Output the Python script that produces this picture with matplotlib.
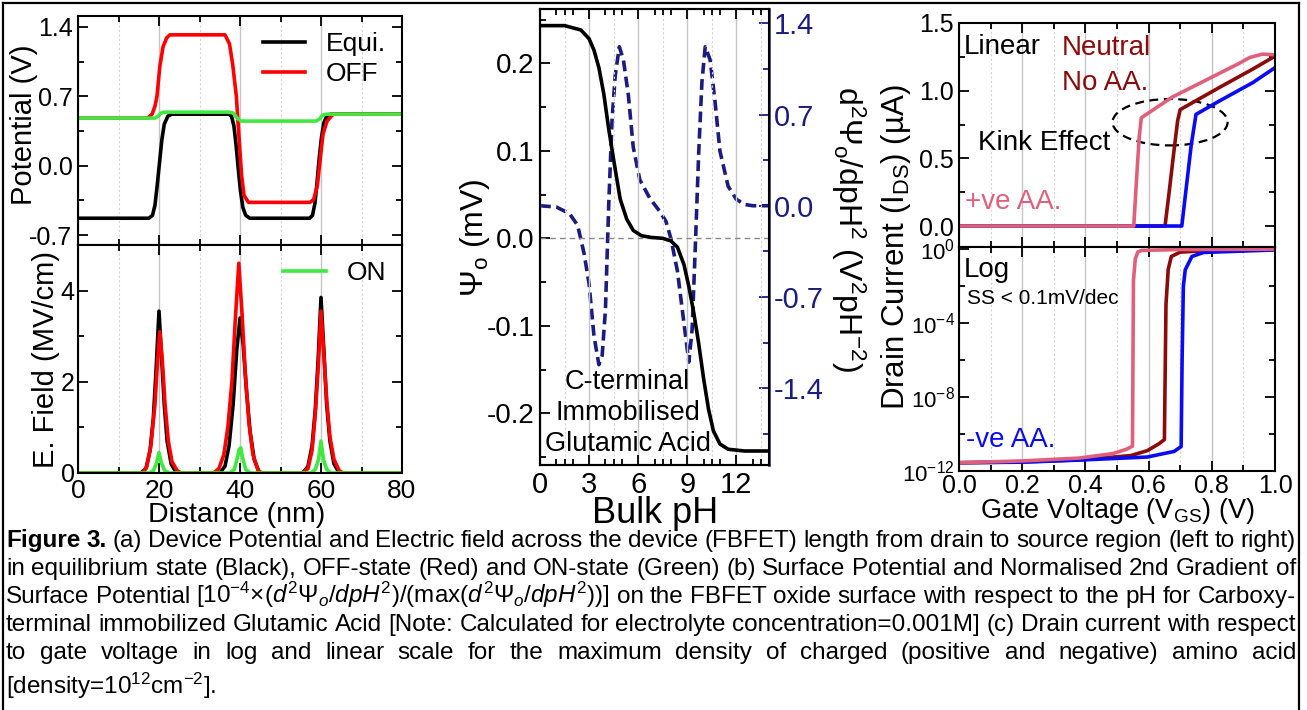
import matplotlib
matplotlib.use('Agg')
import matplotlib.pyplot as plt
from matplotlib.patches import Ellipse
from matplotlib.lines import Line2D
from matplotlib.ticker import MultipleLocator, FixedLocator, NullFormatter, LogFormatterMathtext

# (a) potential along the device, x in nm
eq_x = [0, 17.5, 18.4, 19.0, 19.5, 20.1, 20.7, 21.3, 22.2, 23.2, 37.2, 37.9, 38.5, 39.0, 39.5, 40.1, 40.7, 41.4, 42.4,
        57.2, 57.9, 58.5, 59.0, 59.5, 60.1, 60.7, 61.4, 62.4, 80]
eq_y = [-0.53, -0.53, -0.50, -0.40, -0.22, 0.02, 0.26, 0.42, 0.50, 0.52, 0.52, 0.50, 0.40, 0.22, 0.0, -0.25, -0.42, -0.50, -0.53,
        -0.53, -0.50, -0.38, -0.18, 0.05, 0.28, 0.43, 0.50, 0.52, 0.52]
off_x = [0, 17.2, 18.3, 19.0, 19.5, 20.2, 21.0, 21.9, 22.7, 36.3, 37.4, 38.2, 39.1, 39.7, 40.4, 41.0, 42.1,
         57.3, 58.2, 59.1, 59.9, 60.5, 61.5, 63.0, 80]
off_y = [0.48, 0.48, 0.52, 0.60, 0.70, 1.00, 1.20, 1.29, 1.32, 1.32, 1.23, 1.02, 0.70, 0.32, -0.10, -0.30, -0.37,
         -0.37, -0.34, -0.20, 0.10, 0.32, 0.45, 0.52, 0.52]
on_x = [0, 19.0, 19.8, 20.5, 21.2, 37.4, 38.4, 39.3, 40.3, 58.8, 59.6, 60.4, 61.4, 80]
on_y = [0.48, 0.48, 0.50, 0.53, 0.54, 0.54, 0.53, 0.48, 0.45, 0.45, 0.47, 0.51, 0.52, 0.52]

# (a) electric field, MV/cm
eq_ef_x = [0, 15.5, 16.8, 17.8, 18.6, 19.3, 20.0, 20.6, 21.3, 22.0, 23.0, 24.3,
           35.0, 36.3, 37.3, 38.3, 39.2, 40.0, 40.8, 41.6, 42.5, 43.5, 44.8,
           55.5, 56.8, 57.8, 58.6, 59.3, 60.0, 60.7, 61.4, 62.2, 63.2, 64.5, 80]
eq_ef_y = [0, 0, 0.1, 0.5, 1.2, 2.3, 3.55, 2.6, 1.5, 0.7, 0.2, 0,
           0, 0.15, 0.6, 1.5, 2.7, 3.4, 2.8, 1.8, 0.9, 0.3, 0,
           0, 0.15, 0.6, 1.4, 2.5, 3.85, 2.7, 1.5, 0.7, 0.2, 0, 0]
off_ef_x = [0, 16.0, 17.0, 18.0, 19.0, 19.6, 20.2, 20.8, 21.5, 22.3, 23.2, 24.5, 25.5,
            33.5, 34.8, 36.0, 37.0, 38.0, 38.8, 39.7, 40.5, 41.3, 42.2, 43.2, 44.5, 45.5,
            55.5, 56.8, 57.8, 58.6, 59.3, 60.0, 60.7, 61.4, 62.2, 63.2, 64.5, 65.5, 80]
off_ef_y = [0, 0, 0.15, 0.6, 1.5, 2.4, 3.1, 2.5, 1.5, 0.7, 0.25, 0.05, 0,
            0, 0.1, 0.4, 1.0, 2.0, 3.3, 4.6, 3.5, 2.2, 1.1, 0.4, 0.05, 0,
            0, 0.1, 0.5, 1.3, 2.3, 3.55, 2.6, 1.6, 0.8, 0.3, 0.05, 0, 0]
on_ef_x = [0, 17.5, 18.6, 19.4, 20.0, 20.6, 21.4, 22.5, 37.5, 38.6, 39.4, 39.8, 40.2, 40.6, 41.4, 42.5,
           57.5, 58.6, 59.4, 60.0, 60.6, 61.4, 62.5, 80]
on_ef_y = [0, 0, 0.05, 0.22, 0.45, 0.22, 0.05, 0, 0, 0.08, 0.35, 0.52, 0.55, 0.35, 0.08, 0,
           0, 0.08, 0.3, 0.7, 0.3, 0.08, 0, 0]

# (b) surface potential and its 2nd gradient vs bulk pH
psi_x = [0, 1.5, 2.5, 3.0, 3.3, 3.6, 3.9, 4.2, 4.5, 4.9, 5.3, 5.7, 6.2, 6.8, 7.5, 8.0, 8.4, 8.8, 9.1, 9.4,
         9.7, 10.0, 10.3, 10.6, 11.0, 11.5, 12.5, 14]
psi_y = [0.243, 0.243, 0.238, 0.228, 0.215, 0.195, 0.165, 0.125, 0.09, 0.045, 0.022, 0.009, 0.003, 0.001, 0.0,
         -0.003, -0.01, -0.03, -0.055, -0.085, -0.12, -0.16, -0.195, -0.22, -0.235, -0.241, -0.243, -0.243]
d2_x = [0, 1.0, 1.8, 2.3, 2.7, 3.0, 3.3, 3.6, 3.8, 4.0, 4.2, 4.4, 4.6, 4.85, 5.1, 5.4, 5.7, 6.1, 6.7, 7.3,
        7.7, 8.0, 8.4, 8.7, 9.0, 9.1, 9.3, 9.5, 9.7, 9.9, 10.1, 10.4, 10.7, 11.0, 11.5, 12.0, 12.5, 13.0, 14.0]
d2_y = [0.0, -0.01, -0.06, -0.15, -0.37, -0.6, -1.0, -1.22, -1.15, -0.8, 0.0, 0.65, 1.0, 1.22, 1.12, 0.85, 0.45, 0.2, 0.06, -0.04,
        -0.12, -0.25, -0.5, -0.8, -1.1, -1.2, -0.95, -0.3, 0.4, 0.95, 1.22, 1.12, 0.8, 0.42, 0.15, 0.05, 0.01, 0.0, 0.0]

# (c) drain current (uA) vs gate voltage
pos_lin_x = [0, 0.553, 0.562, 0.570, 0.577, 0.673, 0.779, 0.885, 0.92, 0.96, 1.0]
pos_lin_y = [0, 0, 0.35, 0.65, 0.80, 0.95, 1.075, 1.20, 1.245, 1.27, 1.265]
neu_lin_x = [0, 0.652, 0.665, 0.68, 0.692, 0.70, 0.825, 0.93, 1.0]
neu_lin_y = [0, 0, 0.25, 0.55, 0.78, 0.86, 1.025, 1.16, 1.255]
neg_lin_x = [0, 0.705, 0.72, 0.735, 0.75, 0.825, 0.93, 1.0]
neg_lin_y = [0, 0, 0.3, 0.6, 0.825, 0.925, 1.06, 1.17]

pos_log_x = [0, 0.2, 0.38, 0.486, 0.53, 0.549, 0.552, 0.558, 0.566, 0.578, 0.7, 1.0]
pos_log_y = [2.8e-12, 3.5e-12, 5e-12, 8.7e-12, 1.5e-11, 2.2e-11, 0.02, 0.3, 0.7, 0.85, 0.95, 1.0]
neu_log_x = [0, 0.2, 0.38, 0.543, 0.596, 0.633, 0.650, 0.655, 0.662, 0.672, 0.70, 0.8, 1.0]
neu_log_y = [2.8e-12, 3.1e-12, 4e-12, 6.8e-12, 1.26e-11, 3e-11, 5e-11, 1e-3, 0.08, 0.4, 0.69, 0.85, 0.95]
neg_log_x = [0, 0.2, 0.38, 0.596, 0.681, 0.703, 0.706, 0.71, 0.716, 0.737, 0.774, 1.0]
neg_log_y = [2.8e-12, 3e-12, 3.9e-12, 5.7e-12, 1.15e-11, 2.1e-11, 1e-6, 0.01, 0.076, 0.4, 0.66, 0.9]

caption = [
    "Figure 3. (a) Device Potential and Electric field across the device (FBFET) length from drain to source region (left to right)",
    "in equilibrium state (Black), OFF-state (Red) and ON-state (Green) (b) Surface Potential and Normalised 2nd Gradient of",
    "Surface Potential [10$^{-4}$×($d^2Ψ_o/dpH^2$)/(max($d^2Ψ_o/dpH^2$))] on the FBFET oxide surface with respect to the pH for Carboxy-",
    "terminal immobilized Glutamic Acid [Note: Calculated for electrolyte concentration=0.001M] (c) Drain current with respect",
    "to gate voltage in log and linear scale for the maximum density of charged (positive and negative) amino acid",
    "[density=10$^{12}$cm$^{-2}$].",
]
cap_base = [547, 575, 603, 631, 659, 694]

plt.rcParams['font.family'] = ['Liberation Sans', 'DejaVu Sans']
plt.rcParams['mathtext.fontset'] = 'custom'
plt.rcParams['mathtext.rm'] = 'Liberation Sans'
plt.rcParams['mathtext.it'] = 'Liberation Sans:italic'
plt.rcParams['mathtext.bf'] = 'Liberation Sans:bold'
plt.rcParams['axes.unicode_minus'] = False
plt.rcParams['axes.linewidth'] = 1.5

W, H = 1307, 710
fig = plt.figure(figsize=(W / 100, H / 100), dpi=100)


def box(x0, y0, x1, y1):
    return [x0 / W, 1 - y1 / H, (x1 - x0) / W, (y1 - y0) / H]


def style(ax, xsize, ysize, xpad=4.5):
    ax.tick_params(which='both', direction='in', top=True, right=True, width=1.3)
    ax.tick_params(which='major', length=7)
    ax.tick_params(which='minor', length=4)
    ax.tick_params(axis='x', labelsize=xsize, pad=xpad)
    ax.tick_params(axis='y', labelsize=ysize, pad=4)
    ax.grid(axis='x', which='major', color='#c4c4c4', lw=1.0)
    ax.grid(axis='x', which='minor', color='#d4d4d4', lw=0.8, ls=(0, (2, 2)))
    ax.set_axisbelow(True)


NAVY = '#1c1c80'
GREEN = '#40e840'
PINK = '#e0607a'
DRED = '#8b0a0a'
BLUE = '#0a0af5'
LW = 2.6

# ---- (a) ----
axP = fig.add_axes(box(78, 16, 402, 245))
axE = fig.add_axes(box(78, 245, 402, 473))
for ax in (axP, axE):
    ax.set_xlim(0, 80)
    ax.xaxis.set_major_locator(MultipleLocator(20))
    ax.xaxis.set_minor_locator(MultipleLocator(10))
    style(ax, 19, 18)

axP.plot(eq_x, eq_y, color='k', lw=LW, label='Equi.')
axP.plot(off_x, off_y, color='red', lw=LW, label='OFF')
axP.plot(on_x, on_y, color=GREEN, lw=LW)
axP.set_ylim(-0.8, 1.51)
axP.set_yticks([-0.7, 0.0, 0.7, 1.4])
axP.yaxis.set_minor_locator(MultipleLocator(0.35))
axP.tick_params(labelbottom=False)
axP.legend(loc='upper right', frameon=False, fontsize=19, handlelength=1.6,
           handletextpad=0.8, labelspacing=0.25, borderaxespad=0.2)

axE.plot(eq_ef_x, eq_ef_y, color='k', lw=LW)
axE.plot(off_ef_x, off_ef_y, color='red', lw=LW)
axE.plot(on_ef_x, on_ef_y, color=GREEN, lw=LW, label='ON')
axE.set_ylim(0, 5)
axE.set_yticks([0, 2, 4])
axE.yaxis.set_minor_locator(MultipleLocator(1))
axE.tick_params(axis='y', pad=2.5)
axE.legend(loc='upper right', frameon=False, fontsize=19, handlelength=1.6,
           handletextpad=0.8, borderaxespad=0.2)

fig.text(24 / W, 1 - 125 / H, 'Potential (V)', rotation=90, ha='center', va='center', fontsize=21)
fig.text(46 / W, 1 - 359 / H, 'E. Field (MV/cm)', rotation=90, ha='center', va='center', fontsize=21)
fig.text(237 / W, 1 - 522 / H, 'Distance (nm)', ha='center', va='baseline', fontsize=20.5)

# ---- (b) ----
axM = fig.add_axes(box(540, 9, 769, 465))
axM.set_xlim(0, 14)
axM.set_ylim(-0.259, 0.262)
axM.set_xticks([0, 3, 6, 9, 12])
axM.xaxis.set_minor_locator(FixedLocator([1, 1.5, 2, 4, 4.5, 5, 7, 7.5, 8, 10, 10.5, 11, 13, 13.5]))
axM.set_yticks([-0.2, -0.1, 0.0, 0.1, 0.2])
axM.yaxis.set_minor_locator(MultipleLocator(0.05))
style(axM, 21, 20)
axM.grid(axis='x', which='minor', visible=False)
for xv in [1.5, 4.5, 7.5, 10.5, 13.5]:
    axM.axvline(xv, color='#d4d4d4', lw=0.8, ls=(0, (2, 2)), zorder=0)
axM.tick_params(right=False)
axM.axhline(0, color='#888888', lw=1.0, ls=(0, (4, 3)))
axM.plot(psi_x, psi_y, color='k', lw=LW, zorder=4)
axM.text(5.36, -0.2, 'C-terminal\nImmobilised\nGlutamic Acid', ha='center', va='center',
         fontsize=19.5, linespacing=1.25)

axM2 = axM.twinx()
axM2.plot(d2_x, d2_y, color=NAVY, lw=LW, ls=(0, (3, 1.5)))
axM2.set_ylim(-1.99, 1.51)
axM2.set_yticks([-1.4, -0.7, 0.0, 0.7, 1.4])
axM2.yaxis.set_minor_locator(MultipleLocator(0.35))
axM2.tick_params(which='both', direction='in', colors=NAVY, labelsize=21, width=1.3)
axM2.tick_params(which='major', length=7)
axM2.tick_params(which='minor', length=4)
axM2.spines['right'].set_color(NAVY)
axM2.spines['right'].set_linewidth(1.8)
axM.set_zorder(axM2.get_zorder() + 1)
axM.patch.set_visible(False)

fig.text(475 / W, 1 - 238 / H, 'Ψ$_\\mathregular{o}$ (mV)', rotation=90, ha='center', va='center', fontsize=23)
fig.text(848 / W, 1 - 229 / H, 'd$^\\mathregular{2}$Ψ$_\\mathregular{o}$/dpH$^\\mathregular{2}$ (V$^\\mathregular{2}$pH$^\\mathregular{-2}$)',
         rotation=270, ha='center', va='center', fontsize=23)
fig.text(655 / W, 1 - 523 / H, 'Bulk pH', ha='center', va='baseline', fontsize=26)

# ---- (c) ----
axL = fig.add_axes(box(959, 23, 1275, 247))
axG = fig.add_axes(box(959, 247, 1275, 471))
for ax in (axL, axG):
    ax.set_xlim(0, 1)
    ax.xaxis.set_major_locator(MultipleLocator(0.2))
    ax.xaxis.set_minor_locator(MultipleLocator(0.1))
    style(ax, 18, 18, xpad=2.5)

axL.plot(neu_lin_x, neu_lin_y, color=DRED, lw=LW)
axL.plot(neg_lin_x, neg_lin_y, color=BLUE, lw=LW)
axL.plot(pos_lin_x, pos_lin_y, color=PINK, lw=LW)
axL.set_ylim(-0.155, 1.5)
axL.set_yticks([0.0, 0.5, 1.0, 1.5])
axL.yaxis.set_minor_locator(MultipleLocator(0.25))
axL.tick_params(labelbottom=False)
axL.add_patch(Ellipse((0.668, 0.767), 0.364, 0.343, fill=False, ec='k', lw=1.6, ls=(0, (4, 2.5))))
axL.text(0.014, 0.894, 'Linear', transform=axL.transAxes, fontsize=20, va='center')
axL.text(0.325, 0.887, 'Neutral', transform=axL.transAxes, fontsize=20, va='center', color=DRED)
axL.text(0.325, 0.731, 'No AA.', transform=axL.transAxes, fontsize=20, va='center', color=DRED)
axL.text(0.061, 0.463, 'Kink Effect', transform=axL.transAxes, fontsize=20, va='center')
axL.text(0.019, 0.202, '+ve AA.', transform=axL.transAxes, fontsize=20, va='center', color=PINK)

axG.set_yscale('log')
axG.plot(neu_log_x, neu_log_y, color=DRED, lw=LW)
axG.plot(neg_log_x, neg_log_y, color=BLUE, lw=LW)
axG.plot(pos_log_x, pos_log_y, color=PINK, lw=LW)
axG.set_ylim(1e-12, 1.3)
axG.yaxis.set_major_locator(FixedLocator([1e-12, 1e-8, 1e-4, 1]))
axG.yaxis.set_minor_locator(FixedLocator([1e-10, 1e-6, 1e-2]))
axG.yaxis.set_major_formatter(LogFormatterMathtext())
axG.yaxis.set_minor_formatter(NullFormatter())
axG.tick_params(axis='y', labelsize=16, pad=3)
axG.text(0.016, 0.897, 'Log', transform=axG.transAxes, fontsize=20, va='center')
axG.text(0.025, 0.772, 'SS < 0.1mV/dec', transform=axG.transAxes, fontsize=15, va='center')
axG.text(0.021, 0.138, '-ve AA.', transform=axG.transAxes, fontsize=20, va='center', color=BLUE)

fig.text(896 / W, 1 - 247 / H, 'Drain Current (I$_\\mathregular{DS}$) (µA)', rotation=90,
         ha='center', va='center', fontsize=22.5)
fig.text(1117 / W, 1 - 518 / H, 'Gate Voltage (V$_\\mathregular{GS}$) (V)', ha='center', va='baseline', fontsize=19.5)

# ---- frame ----
for xs, ys in [((3, 3), (3, 712)), ((3, 1298.5), (3, 3)), ((1298.5, 1298.5), (3, 712))]:
    fig.add_artist(Line2D([x / W for x in xs], [1 - y / H for y in ys], color='k', lw=1.6))

# ---- caption, justified word by word ----
renderer = fig.canvas.get_renderer()
x_left, x_right = 6, 1296
for i, (line, base) in enumerate(zip(caption, cap_base)):
    words = line.split(' ')
    arts = []
    for j, w in enumerate(words):
        bold = (i == 0 and j < 2)
        arts.append(fig.text(0, 1 - base / H, w, fontsize=17.5, va='baseline', ha='left',
                             fontweight='bold' if bold else 'normal'))
    widths = [t.get_window_extent(renderer).width for t in arts]
    if i < len(caption) - 1 and len(arts) > 1:
        gap = (x_right - x_left - sum(widths)) / (len(arts) - 1)
    else:
        gap = 6
    x = x_left
    for t, w in zip(arts, widths):
        t.set_x(x / W)
        x += w + gap

fig.savefig('out.png', dpi=100)
